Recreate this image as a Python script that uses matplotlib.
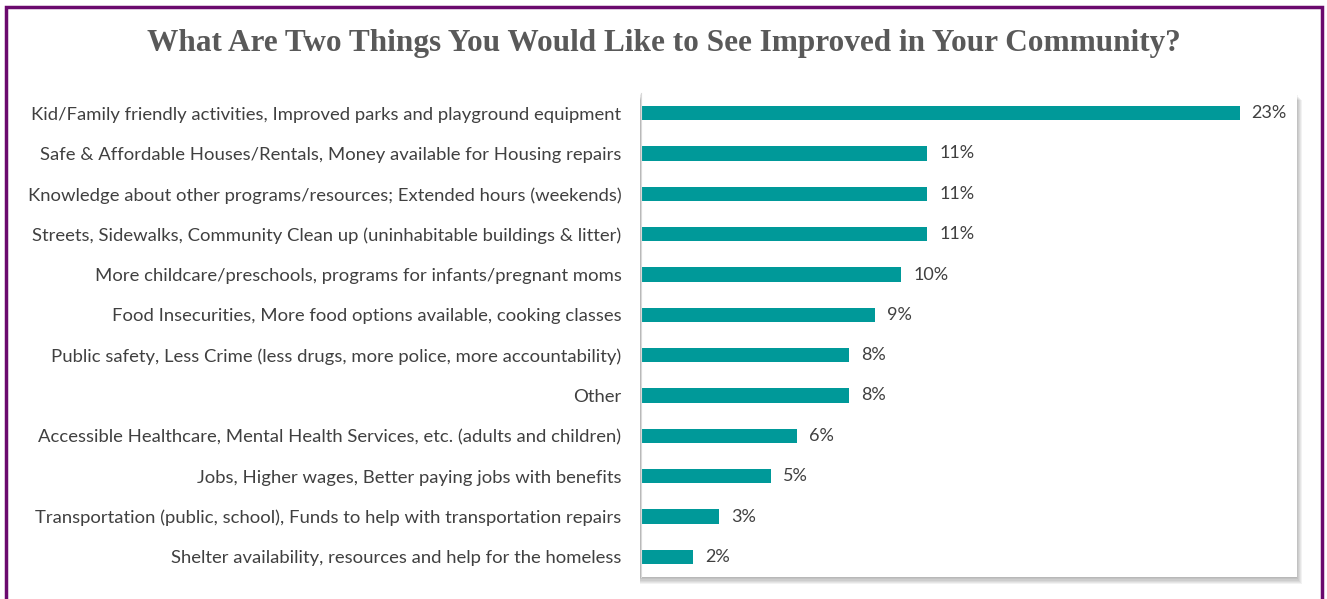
import matplotlib.pyplot as plt
from matplotlib.patches import Rectangle

categories = [
    "Kid/Family friendly activities, Improved parks and playground equipment",
    "Safe & Affordable Houses/Rentals, Money available for Housing repairs",
    "Knowledge about other programs/resources; Extended hours (weekends)",
    "Streets, Sidewalks, Community Clean up (uninhabitable buildings & litter)",
    "More childcare/preschools, programs for infants/pregnant moms",
    "Food Insecurities, More food options available, cooking classes",
    "Public safety, Less Crime (less drugs, more police, more accountability)",
    "Other",
    "Accessible Healthcare, Mental Health Services, etc. (adults and children)",
    "Jobs, Higher wages, Better paying jobs with benefits",
    "Transportation (public, school), Funds to help with transportation repairs",
    "Shelter availability, resources and help for the homeless",
]
values = [23, 11, 11, 11, 10, 9, 8, 8, 6, 5, 3, 2]

title = "What Are Two Things You Would Like to See Improved in Your Community?"
bar_color = "#009999"
text_color = "#404040"

W, H = 1327, 599
fig = plt.figure(figsize=(W / 100, H / 100), dpi=100)
fig.patch.set_facecolor("white")

# purple frame (bottom edge runs off the image)
fig.patches.append(Rectangle((6 / W, -0.05), (1316 / W), 1 - 7 / H + 0.05,
                             transform=fig.transFigure, fill=False,
                             edgecolor="#6b0a6e", linewidth=2.5, zorder=0))

left, right = 641 / W, 1297 / W
top, bottom = 1 - 93 / H, 1 - 577 / H

# soft drop shadow behind plot area
for i in range(6):
    off = (i + 1) / W
    offy = (i + 1) / H
    fig.patches.append(Rectangle((left - 1 / W, bottom - offy * 1.2), right - left + off,
                                 top - bottom, transform=fig.transFigure,
                                 facecolor="#000000", alpha=0.05, edgecolor="none",
                                 zorder=0))

ax = fig.add_axes([left, bottom, right - left, top - bottom])
ax.set_facecolor("white")
ax.set_zorder(1)

y = list(range(len(categories)))
ax.barh(y, values, height=0.35, color=bar_color)
for yi, v in zip(y, values):
    ax.text(v + 0.45, yi, f"{v}%", va="center", ha="left",
            fontsize=13, color=text_color, family="Lato")

ax.set_xlim(0, 25.2)
ax.set_ylim(len(categories) - 0.5, -0.5)
ax.set_yticks(y)
ax.set_yticklabels(categories, fontsize=13.3, color=text_color, family="Lato")
ax.tick_params(axis="y", length=0, pad=14)
ax.set_xticks([])
for s in ax.spines.values():
    s.set_visible(False)
ax.spines["left"].set_visible(True)
ax.spines["left"].set_color("#d9d9d9")

fig.text(0.5, 1 - 43 / H, title, ha="center", va="center", fontsize=22.5,
         fontweight="bold", color="#595959", family="Liberation Serif")

fig.savefig("out.png", dpi=100)
